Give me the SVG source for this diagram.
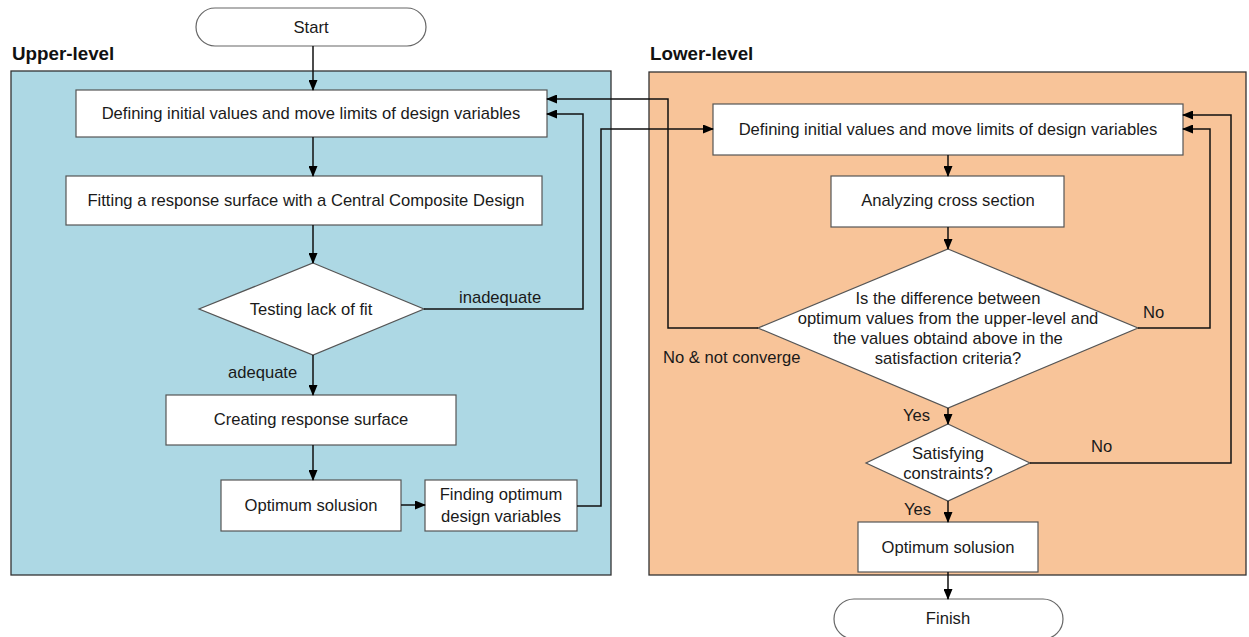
<svg xmlns="http://www.w3.org/2000/svg" width="1249" height="637" viewBox="0 0 1249 637">
<style>
text{font-family:"Liberation Sans",Arial,sans-serif;font-size:16.6px;fill:#1a1a1a}
.t{text-anchor:middle}
.h{font-weight:bold;font-size:18.8px;fill:#111}
.box{fill:#fff;stroke:#555;stroke-width:1.2}
.term{fill:#fff;stroke:#666;stroke-width:1.2}
.panel{stroke:#333;stroke-width:1.3}
.c{fill:none;stroke:#111;stroke-width:1.5}
</style>
<defs>
<marker id="a" markerUnits="userSpaceOnUse" markerWidth="11" markerHeight="9" refX="10" refY="4.5" orient="auto">
<path d="M0,0 L11,4.5 L0,9 z" fill="#000"/>
</marker>
</defs>
<g id="panels">
<rect class="panel" x="11" y="71" width="600" height="504" fill="#ADD8E4"/>
<rect class="panel" x="649" y="72" width="597" height="503" fill="#F8C499"/>
<text class="h" x="12" y="60">Upper-level</text>
<text class="h" x="650" y="60">Lower-level</text>
</g>
<g id="start"><rect class="term" x="196" y="8" width="230" height="38" rx="19"/><text class="t" x="311" y="33">Start</text></g>
<g id="u1"><rect class="box" x="76" y="90" width="471" height="47"/><text class="t" x="311" y="119">Defining initial values and move limits of design variables</text></g>
<g id="u2"><rect class="box" x="66" y="176" width="476" height="49"/><text class="t" x="306" y="206">Fitting a response surface with a Central Composite Design</text></g>
<g id="u3"><polygon class="box" points="313,263 424,309 313,355 199,309"/><text class="t" x="311" y="315">Testing lack of fit</text></g>
<g id="u4"><rect class="box" x="166" y="395" width="290" height="50"/><text class="t" x="311" y="425">Creating response surface</text></g>
<g id="u5"><rect class="box" x="221" y="480" width="180" height="51"/><text class="t" x="311" y="511">Optimum solusion</text></g>
<g id="u6"><rect class="box" x="425" y="480" width="152" height="51"/><text class="t" x="501" y="500">Finding optimum</text><text class="t" x="501" y="522">design variables</text></g>
<g id="l1"><rect class="box" x="713" y="104" width="470" height="51"/><text class="t" x="948" y="135">Defining initial values and move limits of design variables</text></g>
<g id="l2"><rect class="box" x="831" y="176" width="233" height="51"/><text class="t" x="948" y="206">Analyzing cross section</text></g>
<g id="l3"><polygon class="box" points="948,249 1138,328 948,408 758,328"/>
<text class="t" x="948" y="304">Is the difference between</text>
<text class="t" x="948" y="324">optimum values from the upper-level and</text>
<text class="t" x="948" y="344">the values obtaind above in the</text>
<text class="t" x="948" y="364">satisfaction criteria?</text></g>
<g id="l4"><polygon class="box" points="948,424 1030,463 948,501 866,463"/><text class="t" x="948" y="459">Satisfying</text><text class="t" x="948" y="479">constraints?</text></g>
<g id="l5"><rect class="box" x="858" y="522" width="180" height="50"/><text class="t" x="948" y="553">Optimum solusion</text></g>
<g id="finish"><rect class="term" x="834" y="599" width="229" height="40" rx="20"/><text class="t" x="948" y="624">Finish</text></g>
<g id="connectors">
<path class="c" marker-end="url(#a)" d="M313,46 V90"/>
<path class="c" marker-end="url(#a)" d="M313,137 V176"/>
<path class="c" marker-end="url(#a)" d="M313,225 V263"/>
<path class="c" marker-end="url(#a)" d="M313,355 V395"/>
<path class="c" marker-end="url(#a)" d="M313,445 V480"/>
<path class="c" marker-end="url(#a)" d="M401,505 H425"/>
<path class="c" marker-end="url(#a)" d="M424,309 H583 V114 H547"/>
<path class="c" marker-end="url(#a)" d="M577,506 H601 V129 H713"/>
<path class="c" marker-end="url(#a)" d="M948,155 V176"/>
<path class="c" marker-end="url(#a)" d="M948,227 V249"/>
<path class="c" marker-end="url(#a)" d="M758,328 H668 V99 H547"/>
<path class="c" marker-end="url(#a)" d="M1138,328 H1210 V129 H1183"/>
<path class="c" marker-end="url(#a)" d="M948,408 V424"/>
<path class="c" marker-end="url(#a)" d="M1030,463 H1231 V115 H1183"/>
<path class="c" marker-end="url(#a)" d="M948,501 V522"/>
<path class="c" marker-end="url(#a)" d="M948,572 V599"/>
<text x="459" y="303">inadequate</text>
<text x="228" y="378">adequate</text>
<text x="663" y="363">No &amp; not converge</text>
<text x="1143" y="318">No</text>
<text x="903" y="421">Yes</text>
<text x="1091" y="452">No</text>
<text x="904" y="515">Yes</text>
</g>
</svg>
